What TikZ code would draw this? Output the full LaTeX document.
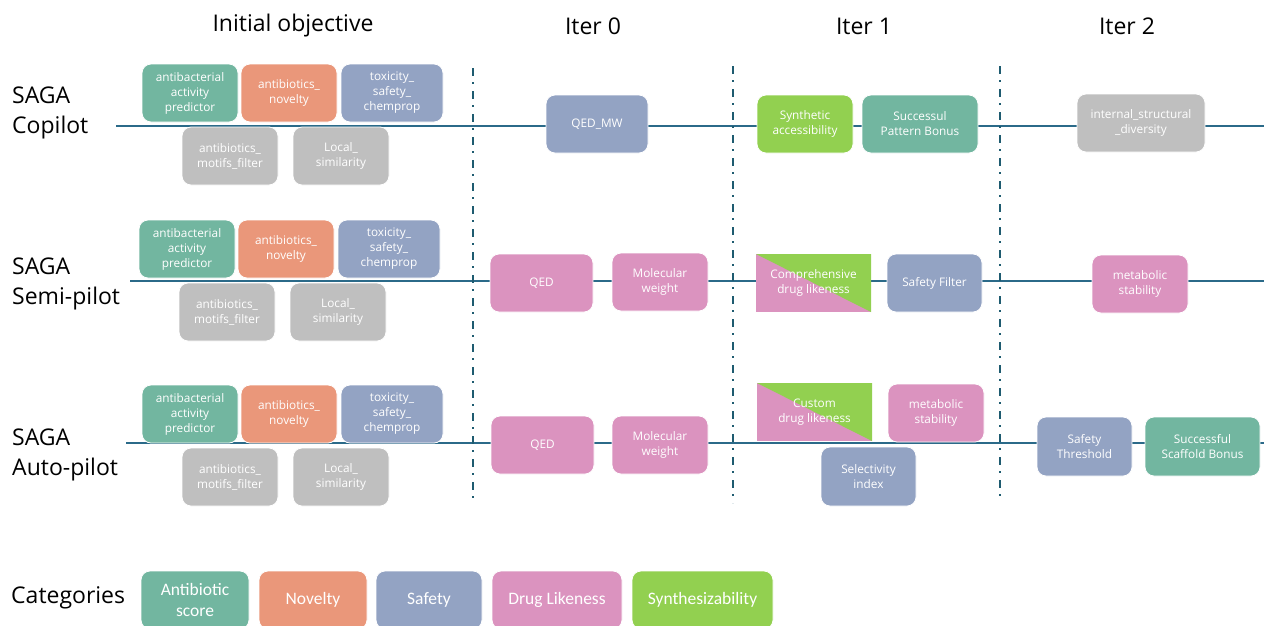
\documentclass[tikz,border=0pt]{standalone}
\usepackage{fontspec}
\setmainfont{Open Sans}
\newfontfamily\catfont{Carlito}
\definecolor{cAnti}{HTML}{72B6A0}
\definecolor{cNov}{HTML}{EA977A}
\definecolor{cSafe}{HTML}{93A3C3}
\definecolor{cGrey}{HTML}{BFBFBF}
\definecolor{cPink}{HTML}{DB93BF}
\definecolor{cSyn}{HTML}{92D050}
\definecolor{cLine}{HTML}{2B6A89}
\definecolor{cDash}{HTML}{1E5B70}
\tikzset{
  objbox/.style={rounded corners=9pt, draw=white, line width=0.8pt, text=white, align=center,
    minimum height=58pt, inner sep=0pt, font=\fontsize{11.8}{15}\selectfont},
  splitbox/.style={objbox, rounded corners=0pt, draw=none, fill=cPink,
    path picture={\fill[cSyn] (path picture bounding box.north west) -- (path picture bounding box.north east) -- (path picture bounding box.south east) -- cycle;}},
  catbox/.style={rounded corners=9pt, draw=white, line width=0.8pt, text=white, align=center,
    minimum height=58pt, inner sep=0pt, font=\catfont\fontsize{17.5}{21}\selectfont},
  header/.style={font=\fontsize{23}{27}\selectfont, text=black},
  rowlabel/.style={font=\fontsize{23}{30}\selectfont, align=left, anchor=west, inner sep=0pt, text=black},
  timeline/.style={draw=cLine, line width=1.8pt},
  iterline/.style={draw=cDash, line width=2pt, dash pattern=on 8pt off 6pt on 2pt off 7pt},
}
\begin{document}
\begin{tikzpicture}[x=1pt,y=-1pt]
\useasboundingbox[fill=white] (0,0) rectangle (1264,625);
% headers
\node[header] (hInit) at (293,26) {Initial objective};
\node[header] (hI0) at (593,26) {Iter 0};
\node[header] (hI1) at (864,26) {Iter 1};
\node[header] (hI2) at (1127,26) {Iter 2};
% row labels
\node[rowlabel] (lCo) at (12,113) {SAGA\\Copilot};
\node[rowlabel] (lSemi) at (12,284) {SAGA\\Semi-pilot};
\node[rowlabel] (lAuto) at (12,455) {SAGA\\Auto-pilot};
\node[rowlabel] (lCat) at (11,598) {Categories};
% timelines
\coordinate (t1s) at (116,126); \coordinate (t1e) at (1264,126);
\coordinate (t2s) at (130,281); \coordinate (t2e) at (1264,281);
\coordinate (t3s) at (126,443); \coordinate (t3e) at (1264,443);
\draw[timeline] (t1s) -- (t1e);
\draw[timeline] (t2s) -- (t2e);
\draw[timeline] (t3s) -- (t3e);
% iteration separators
\coordinate (d1s) at (473,68); \coordinate (d1e) at (473,503);
\coordinate (d2s) at (733,66); \coordinate (d2e) at (733,503);
\coordinate (d3s) at (1000,66); \coordinate (d3e) at (1000,497);
\draw[iterline] (d1s) -- (d1e);
\draw[iterline] (d2s) -- (d2e);
\draw[iterline] (d3s) -- (d3e);
% ---- Row 1: Copilot
\node[objbox, fill=cAnti, minimum width=96pt] (a1) at (190,93) {antibacterial\\activity\\predictor};
\node[objbox, fill=cNov, minimum width=96pt] (n1) at (289,93) {antibiotics\_\\novelty};
\node[objbox, fill=cSafe, minimum width=102pt] (s1) at (392,93) {toxicity\_\\safety\_\\chemprop};
\node[objbox, fill=cGrey, minimum width=96pt] (m1) at (230,156) {antibiotics\_\\motifs\_filter};
\node[objbox, fill=cGrey, minimum width=96pt] (l1) at (341,156) {Local\_\\similarity};
\node[objbox, fill=cSafe, minimum width=102pt] (q1) at (597,124) {QED\_MW};
\node[objbox, fill=cSyn, minimum width=96pt] (sa1) at (805,124) {Synthetic\\accessibility};
\node[objbox, fill=cAnti, minimum width=116pt] (sp1) at (920,124) {Successul\\Pattern Bonus};
\node[objbox, fill=cGrey, minimum width=128pt] (isd1) at (1141,123) {internal\_structural\\\_diversity};
% ---- Row 2: Semi-pilot
\node[objbox, fill=cAnti, minimum width=96pt] (a2) at (187,249) {antibacterial\\activity\\predictor};
\node[objbox, fill=cNov, minimum width=96pt] (n2) at (286,249) {antibiotics\_\\novelty};
\node[objbox, fill=cSafe, minimum width=102pt] (s2) at (389,249) {toxicity\_\\safety\_\\chemprop};
\node[objbox, fill=cGrey, minimum width=96pt] (m2) at (227,312) {antibiotics\_\\motifs\_filter};
\node[objbox, fill=cGrey, minimum width=96pt] (l2) at (338,312) {Local\_\\similarity};
\node[objbox, fill=cPink, minimum width=103pt] (q2) at (541.5,283) {QED};
\node[objbox, fill=cPink, minimum width=96pt] (mw2) at (660,282) {Molecular\\weight};
\node[splitbox, minimum width=115pt] (cd2) at (813.5,283) {Comprehensive\\drug likeness};
\node[objbox, fill=cSafe, minimum width=95pt] (sf2) at (934.5,283) {Safety Filter};
\node[objbox, fill=cPink, minimum width=96pt] (ms2) at (1140,284) {metabolic\\stability};
% ---- Row 3: Auto-pilot
\node[objbox, fill=cAnti, minimum width=96pt] (a3) at (190,414) {antibacterial\\activity\\predictor};
\node[objbox, fill=cNov, minimum width=96pt] (n3) at (289,414) {antibiotics\_\\novelty};
\node[objbox, fill=cSafe, minimum width=102pt] (s3) at (392,414) {toxicity\_\\safety\_\\chemprop};
\node[objbox, fill=cGrey, minimum width=96pt] (m3) at (230,477) {antibiotics\_\\motifs\_filter};
\node[objbox, fill=cGrey, minimum width=96pt] (l3) at (341,477) {Local\_\\similarity};
\node[objbox, fill=cPink, minimum width=103pt] (q3) at (542.5,445) {QED};
\node[objbox, fill=cPink, minimum width=96pt] (mw3) at (660,445) {Molecular\\weight};
\node[splitbox, minimum width=115pt] (cu3) at (814.5,412) {Custom\\drug likeness};
\node[objbox, fill=cPink, minimum width=96pt] (ms3) at (936,413) {metabolic\\stability};
\node[objbox, fill=cSafe, minimum width=95pt, minimum height=59pt] (si3) at (868.5,476.5) {Selectivity\\index};
\node[objbox, fill=cSafe, minimum width=95pt, minimum height=59pt] (st3) at (1084.5,446.5) {Safety\\Threshold};
\node[objbox, fill=cAnti, minimum width=115pt, minimum height=59pt] (ss3) at (1202.5,446.5) {Successful\\Scaffold Bonus};
% ---- Categories
\node[catbox, fill=cAnti, minimum width=108pt] (cA) at (195,600) {Antibiotic\\score};
\node[catbox, fill=cNov, minimum width=108pt] (cN) at (313,600) {Novelty};
\node[catbox, fill=cSafe, minimum width=106pt] (cS) at (429,600) {Safety};
\node[catbox, fill=cPink, minimum width=130pt] (cD) at (557,600) {Drug Likeness};
\node[catbox, fill=cSyn, minimum width=141pt] (cY) at (702.5,600) {Synthesizability};
\end{tikzpicture}
\end{document}
